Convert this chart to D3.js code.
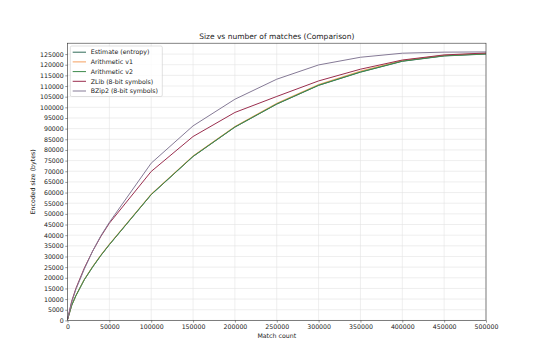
<!DOCTYPE html>
<html><head><meta charset="utf-8">
<script src="https://cdn.jsdelivr.net/npm/d3@7"></script>
<style>body{margin:0;background:#fff}svg{display:block}text{font-family:"DejaVu Sans",sans-serif;fill:#222}</style>
</head><body><svg id="c" width="540" height="360"></svg>
<script>
const matchCounts = [0, 5000, 10000, 20000, 30000, 40000, 50000, 100000, 150000, 200000, 250000, 300000, 350000, 400000, 450000, 500000];
const estimate   = [300, 7000, 11500, 19000, 25000, 30500, 35500, 59000, 76900, 90700, 101500, 110300, 116500, 121600, 124100, 125000];
const arithV1    = [350, 7100, 11700, 19200, 25300, 30800, 35800, 59300, 77200, 91000, 101900, 110700, 117000, 122000, 124400, 125300];
const arithV2    = [320, 7050, 11600, 19100, 25100, 30600, 35600, 59100, 77000, 90800, 101600, 110400, 116600, 121700, 124200, 125100];
const zlib       = [400, 9000, 15000, 24500, 32500, 39500, 45600, 69900, 86300, 97600, 105100, 112400, 117900, 122200, 124600, 125500];
const bzip2      = [500, 8500, 14500, 24000, 32500, 39800, 46000, 73800, 91300, 103800, 113200, 119900, 123500, 125400, 125900, 126000];
const seriesNames = ["Estimate (entropy)", "Arithmetic v1", "Arithmetic v2", "ZLib (8-bit symbols)", "BZip2 (8-bit symbols)"];
const xTicks = [0, 50000, 100000, 150000, 200000, 250000, 300000, 350000, 400000, 450000, 500000];
const yTicks = d3.range(0, 125001, 5000);

const series = [estimate, arithV1, arithV2, zlib, bzip2];
const colors = ["#2f6a58", "#f5a060", "#3d8a4c", "#9a2e4e", "#857a96"];

const svg = d3.select("#c");
const L = 67.5, R = 486, T = 43.2, B = 320.4;
const x = d3.scaleLinear().domain([0, 500000]).range([L, R]);
const y = d3.scaleLinear().domain([0, 130100]).range([B, T]);

// grid
const g = svg.append("g");
g.selectAll(".vg").data(xTicks).join("line")
  .attr("x1", d => x(d)).attr("x2", d => x(d)).attr("y1", T).attr("y2", B)
  .attr("stroke", "#e2e2e2").attr("stroke-width", 0.6);
g.selectAll(".hg").data(yTicks).join("line")
  .attr("y1", d => y(d)).attr("y2", d => y(d)).attr("x1", L).attr("x2", R)
  .attr("stroke", "#e2e2e2").attr("stroke-width", 0.6);

// axes
const xa = svg.append("g").attr("transform", `translate(0,${B})`)
  .call(d3.axisBottom(x).tickValues(xTicks).tickFormat(d3.format("d")).tickSize(2.2).tickPadding(1.5));
const ya = svg.append("g").attr("transform", `translate(${L},0)`)
  .call(d3.axisLeft(y).tickValues(yTicks).tickFormat(d3.format("d")).tickSize(2.2).tickPadding(1.5));
[xa, ya].forEach(a => {
  a.select(".domain").remove();
  a.selectAll("line").attr("stroke", "#333").attr("stroke-width", 0.5);
  a.selectAll("text").attr("font-size", 6.25).attr("fill", "#222").style("font-family", "DejaVu Sans");
});

// lines
const line = d3.line().x((d, i) => x(matchCounts[i])).y(d => y(d));
series.forEach((s, k) => {
  svg.append("path").datum(s).attr("d", line).attr("fill", "none")
    .attr("stroke", colors[k]).attr("stroke-width", 1);
});

// frame
svg.append("rect").attr("x", L).attr("y", T).attr("width", R - L).attr("height", B - T)
  .attr("fill", "none").attr("stroke", "#333").attr("stroke-width", 0.6);

// title and labels
svg.append("text").attr("x", (L + R) / 2).attr("y", 39.2).attr("text-anchor", "middle")
  .attr("font-size", 7.5).text("Size vs number of matches (Comparison)");
svg.append("text").attr("x", (L + R) / 2).attr("y", 338).attr("text-anchor", "middle")
  .attr("font-size", 6.25).text("Match count");
svg.append("text").attr("transform", `translate(35,${(T + B) / 2}) rotate(-90)`).attr("text-anchor", "middle")
  .attr("font-size", 6.25).text("Encoded size (bytes)");

// legend
const lg = svg.append("g");
lg.append("rect").attr("x", 70.3).attr("y", 46).attr("width", 92).attr("height", 50.5).attr("rx", 1.5)
  .attr("fill", "#fff").attr("fill-opacity", 0.8).attr("stroke", "#ccc").attr("stroke-width", 0.6);
seriesNames.forEach((n, k) => {
  const yy = 52.2 + k * 9.7;
  lg.append("line").attr("x1", 72.7).attr("x2", 86).attr("y1", yy).attr("y2", yy)
    .attr("stroke", colors[k]).attr("stroke-width", 1);
  lg.append("text").attr("x", 90.7).attr("y", yy + 2.2).attr("font-size", 6.25).text(n);
});
</script></body></html>
